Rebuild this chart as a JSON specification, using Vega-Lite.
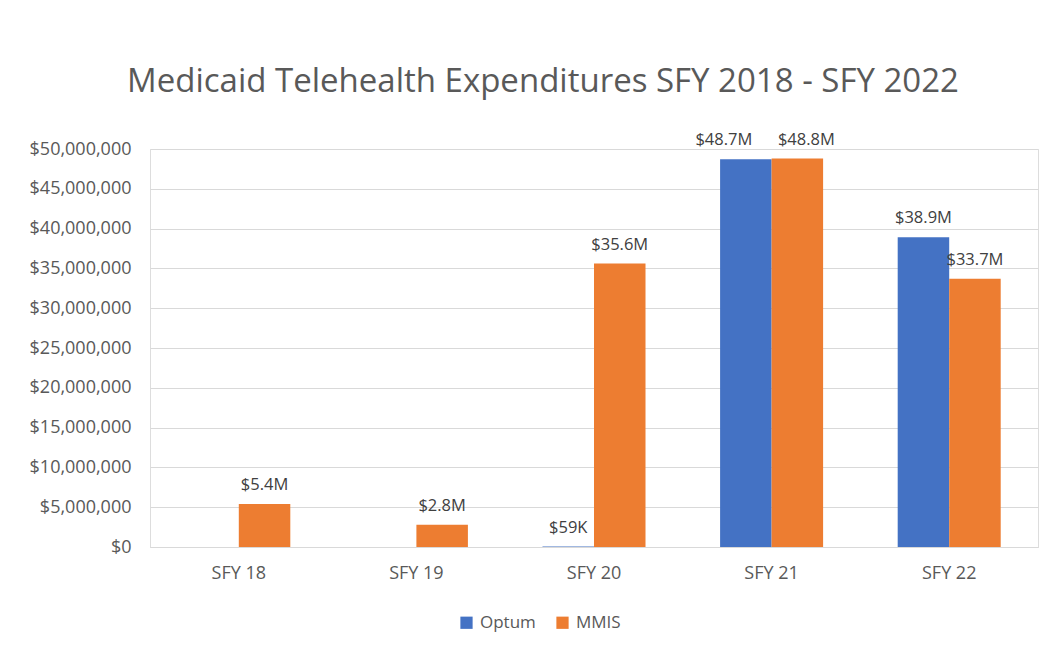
{
  "$schema": "https://vega.github.io/schema/vega-lite/v6.json",
  "autosize": {"type": "none"},
  "width": 888,
  "height": 398,
  "padding": {"left": 150, "top": 149, "right": 16, "bottom": 103},
  "background": "white",
  "title": {
    "text": "Medicaid Telehealth Expenditures SFY 2018 - SFY 2022",
    "font": "Open Sans",
    "fontSize": 33,
    "fontWeight": "normal",
    "color": "#595959",
    "anchor": "middle",
    "dx": -51,
    "offset": 33
  },
  "data": {
    "values": [
      {"year": "SFY 18", "source": "MMIS", "value": 5400000, "label": "$5.4M"},
      {"year": "SFY 19", "source": "MMIS", "value": 2800000, "label": "$2.8M"},
      {"year": "SFY 20", "source": "Optum", "value": 59000, "label": "$59K"},
      {"year": "SFY 20", "source": "MMIS", "value": 35600000, "label": "$35.6M"},
      {"year": "SFY 21", "source": "Optum", "value": 48700000, "label": "$48.7M"},
      {"year": "SFY 21", "source": "MMIS", "value": 48800000, "label": "$48.8M"},
      {"year": "SFY 22", "source": "Optum", "value": 38900000, "label": "$38.9M"},
      {"year": "SFY 22", "source": "MMIS", "value": 33700000, "label": "$33.7M"}
    ]
  },
  "encoding": {
    "x": {
      "field": "year",
      "type": "nominal",
      "sort": ["SFY 18", "SFY 19", "SFY 20", "SFY 21", "SFY 22"],
      "scale": {"paddingInner": 0.42, "paddingOuter": 0.21},
      "axis": {
        "title": null,
        "labelAngle": 0,
        "labelFont": "Open Sans",
        "labelFontSize": 18,
        "labelColor": "#595959",
        "labelPadding": 17,
        "ticks": false,
        "domainColor": "#d9d9d9",
        "domainWidth": 1
      }
    },
    "xOffset": {
      "field": "source",
      "type": "nominal",
      "scale": {"domain": ["Optum", "MMIS"], "paddingInner": 0, "paddingOuter": 0}
    },
    "y": {
      "field": "value",
      "type": "quantitative",
      "scale": {"domain": [0, 50000000], "nice": false},
      "axis": {
        "title": null,
        "values": [0, 5000000, 10000000, 15000000, 20000000, 25000000, 30000000, 35000000, 40000000, 45000000, 50000000],
        "format": "$,.0f",
        "labelFont": "Open Sans",
        "labelFontSize": 18,
        "labelColor": "#595959",
        "labelPadding": 19,
        "ticks": false,
        "domain": false,
        "gridColor": "#d9d9d9",
        "gridWidth": 1
      }
    }
  },
  "layer": [
    {
      "mark": {"type": "bar"},
      "encoding": {
        "color": {
          "field": "source",
          "type": "nominal",
          "scale": {"domain": ["Optum", "MMIS"], "range": ["#4472C4", "#ED7D31"]},
          "legend": {
            "title": null,
            "orient": "none",
            "legendX": 308,
            "legendY": 465,
            "direction": "horizontal",
            "symbolType": "square",
            "symbolSize": 150,
            "symbolStrokeWidth": 0,
            "labelFont": "Open Sans",
            "labelFontSize": 17,
            "labelColor": "#595959",
            "columnPadding": 18,
            "labelOffset": 5
          }
        }
      }
    },
    {
      "transform": [{"filter": "datum.year !== 'SFY 21'"}],
      "mark": {
        "type": "text",
        "baseline": "bottom",
        "dy": -11,
        "font": "Open Sans",
        "fontSize": 16.5,
        "color": "#404040"
      },
      "encoding": {
        "text": {"field": "label"}
      }
    },
    {
      "transform": [{"filter": "datum.year === 'SFY 21' && datum.source === 'Optum'"}],
      "mark": {
        "type": "text",
        "baseline": "bottom",
        "dy": -11,
        "dx": -22,
        "font": "Open Sans",
        "fontSize": 16.5,
        "color": "#404040"
      },
      "encoding": {
        "text": {"field": "label"}
      }
    },
    {
      "transform": [{"filter": "datum.year === 'SFY 21' && datum.source === 'MMIS'"}],
      "mark": {
        "type": "text",
        "baseline": "bottom",
        "dy": -11,
        "dx": 9,
        "font": "Open Sans",
        "fontSize": 16.5,
        "color": "#404040"
      },
      "encoding": {
        "text": {"field": "label"}
      }
    }
  ]
}
